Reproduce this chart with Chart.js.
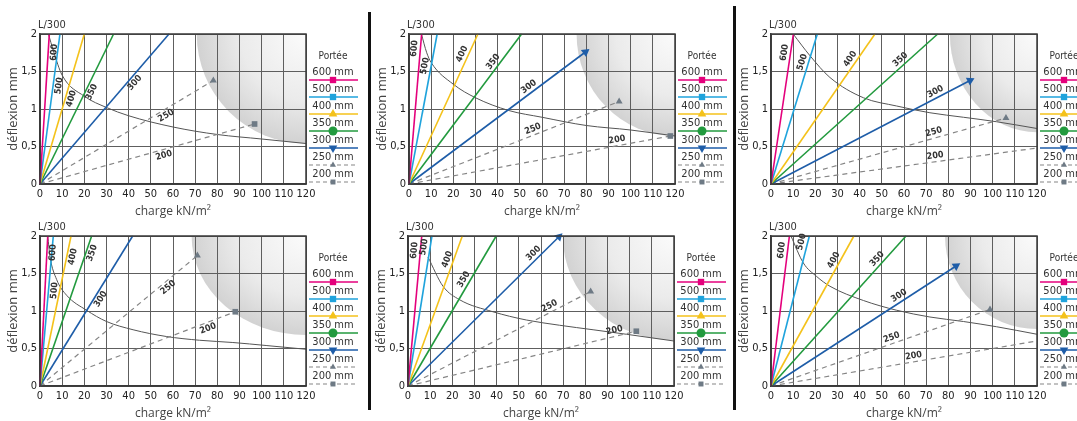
<!DOCTYPE html>
<html>
<head>
<meta charset="utf-8">
<script src="https://cdn.jsdelivr.net/npm/chart.js@4.4.0/dist/chart.umd.min.js"></script>
<style>
  body { margin: 0; background: #fff; width: 1077px; height: 421px; overflow: hidden; position: relative; }
  canvas { position: absolute; }
  .sep { position: absolute; width: 3px; background: #111; }
</style>
</head>
<body>
<div class="sep" style="left:368px; top:12px; height:398px"></div>
<div class="sep" style="left:733px; top:6px; height:404px"></div>
<canvas id="c1" width="366" height="224"></canvas>
<canvas id="c2" width="366" height="224"></canvas>
<canvas id="c3" width="366" height="224"></canvas>
<canvas id="c4" width="366" height="224"></canvas>
<canvas id="c5" width="366" height="224"></canvas>
<canvas id="c6" width="366" height="224"></canvas>
<script>
// portées (mm) et graduations
const spans = ['600', '500', '400', '350', '300', '250', '200'];
const xTicks = [0, 10, 20, 30, 40, 50, 60, 70, 80, 90, 100, 110, 120];
const yTicks = [0, 0.5, 1, 1.5, 2];

// fin de chaque droite (charge kN/m2, deflexion mm), par graphique
const p1EndX = [4.2, 9, 20, 33.2, 58.2, 78.2, 96.8];
const p1EndY = [2, 2, 2, 2, 2, 1.38, 0.8];
const p2EndX = [5.7, 12.7, 31.1, 50.8, 79.6, 94.8, 117.9];
const p2EndY = [2, 2, 2, 2, 1.76, 1.1, 0.64];
const p3EndX = [10.1, 20.9, 46.9, 75.2, 89.8, 106, 120];
const p3EndY = [2, 2, 2, 2, 1.38, 0.88, 0.48];
const p4EndX = [3.5, 6, 14, 23.3, 41.8, 71, 88.1];
const p4EndY = [2, 2, 2, 2, 2, 1.74, 0.99];
const p5EndX = [6.2, 10.8, 24.5, 39.8, 68.1, 82.4, 103];
const p5EndY = [2, 2, 2, 2, 1.99, 1.26, 0.73];
const p6EndX = [8.3, 17.3, 37.4, 60.9, 83.5, 98.8, 120];
const p6EndY = [2, 2, 2, 2, 1.6, 1.02, 0.6];

// courbe limite grise
const p1CurveX = [3.8, 6, 10, 20, 30, 40, 60, 80, 100, 120];
const p1CurveY = [2, 1.78, 1.45, 1.17, 1.02, 0.91, 0.76, 0.66, 0.6, 0.54];
const p2CurveX = [5.6, 8, 10, 20, 30, 45, 60, 80, 100, 120];
const p2CurveY = [2, 1.75, 1.62, 1.33, 1.15, 0.98, 0.89, 0.78, 0.72, 0.64];
const p3CurveX = [10, 17.6, 26.6, 41.7, 56.7, 71.7, 86.8, 101.8, 120];
const p3CurveY = [2, 1.71, 1.42, 1.15, 1.04, 0.95, 0.89, 0.83, 0.74];
const p4CurveX = [3.5, 4.5, 7.5, 12, 21, 30, 42, 57, 72, 87, 102, 120];
const p4CurveY = [2, 1.73, 1.42, 1.21, 1.01, 0.86, 0.75, 0.66, 0.61, 0.58, 0.54, 0.49];
const p5CurveX = [9, 15.8, 23.3, 38.3, 53.4, 68.4, 83.5, 98.5, 120];
const p5CurveY = [1.72, 1.33, 1.15, 0.99, 0.88, 0.81, 0.75, 0.69, 0.6];
const p6CurveX = [9, 14.6, 20.6, 26.6, 41.7, 56.7, 71.7, 86.8, 101.8, 120];
const p6CurveY = [2, 1.64, 1.46, 1.33, 1.14, 1.01, 0.92, 0.86, 0.79, 0.69];

// zone grisee : croisement avec le haut (kN/m2) et avec le bord droit (mm)
const zoneTopX = [70.7, 75.6, 80.7, 68.4, 69.8, 78.5];
const zoneRightY = [0.54, 0.64, 0.69, 0.68, 0.61, 0.76];

const lineColors = ['#e4007c', '#1fa3dc', '#f4c21b', '#229a3e', '#1e5da8', '#858585', '#858585'];
const markColors = ['#e4007c', '#1fa3dc', '#f4c21b', '#229a3e', '#1e5da8', '#6e7a85', '#6e7a85'];
const narrow = "'Liberation Sans Narrow', 'DejaVu Sans Condensed', sans-serif";

const panels = [
    { id: 'c1', left: 40, top: 34, endX: p1EndX, endY: p1EndY, cx: p1CurveX, cy: p1CurveY, side: 1,
      at: [0.88, 0.66, 0.58, 0.63, 0.70, 0.71, 0.57] },
    { id: 'c2', left: 409, top: 34, endX: p2EndX, endY: p2EndY, cx: p2CurveX, cy: p2CurveY, side: -1,
      at: [0.9, 0.78, 0.85, 0.79, 0.7, 0.6, 0.8] },
    { id: 'c3', left: 771, top: 34, endX: p3EndX, endY: p3EndY, cx: p3CurveX, cy: p3CurveY, side: -1,
      at: [0.87, 0.8, 0.81, 0.8, 0.84, 0.7, 0.62] },
    { id: 'c4', left: 40, top: 236, endX: p4EndX, endY: p4EndY, cx: p4CurveX, cy: p4CurveY, side: 1,
      at: [0.89, 0.64, 0.87, 0.9, 0.6, 0.79, 0.85] },
    { id: 'c5', left: 408, top: 236, endX: p5EndX, endY: p5EndY, cx: p5CurveX, cy: p5CurveY, side: -1,
      at: [0.9, 0.92, 0.83, 0.69, 0.86, 0.79, 0.91] },
    { id: 'c6', left: 771, top: 236, endX: p6EndX, endY: p6EndY, cx: p6CurveX, cy: p6CurveY, side: -1,
      at: [0.9, 0.95, 0.82, 0.82, 0.71, 0.56, 0.54] },
];

// ZONE GRISEE (dessinee sous la grille)
const zonePlugin = {
    id: 'zone',
    beforeDraw(chart, args, opts) {
        const { ctx, chartArea: a, scales: { x, y } } = chart;
        const rx = a.right - x.getPixelForValue(opts.topX);
        const ry = y.getPixelForValue(opts.rightY) - a.top;
        ctx.save();
        ctx.beginPath();
        ctx.rect(a.left, a.top, a.width, a.height);
        ctx.clip();
        ctx.translate(a.right, a.top);
        ctx.scale(rx, ry);
        const g = ctx.createRadialGradient(0, 0, 0, 0, 0, 1);
        g.addColorStop(0, '#fbfbfb');
        g.addColorStop(0.6, '#ebebeb');
        g.addColorStop(1, '#d2d2d2');
        ctx.fillStyle = g;
        ctx.beginPath();
        ctx.arc(0, 0, 1, 0, Math.PI * 2);
        ctx.fill();
        ctx.restore();
    }
};

// CHIFFRES LE LONG DES DROITES
const tagPlugin = {
    id: 'tags',
    afterDatasetsDraw(chart, args, opts) {
        const ctx = chart.ctx;
        ctx.save();
        ctx.font = 'bold 9px ' + narrow;
        ctx.fillStyle = '#333';
        ctx.textAlign = 'center';
        ctx.textBaseline = 'middle';
        chart.data.datasets.forEach((ds, i) => {
            if (!ds.tag) return;
            const pts = chart.getDatasetMeta(i).data;
            const dx = pts[1].x - pts[0].x;
            const dy = pts[1].y - pts[0].y;
            const len = Math.hypot(dx, dy);
            const t = opts.at[i];
            const px = pts[0].x + dx * t - opts.side * (dy / len) * 6;
            const py = pts[0].y + dy * t + opts.side * (dx / len) * 6;
            ctx.save();
            ctx.translate(px, py);
            ctx.rotate(Math.atan2(dy, dx));
            ctx.fillText(ds.tag, 0, 0);
            ctx.restore();
        });
        ctx.restore();
    }
};

// CADRE, L/300 ET LEGENDE "PORTEE"
const legendStyles = ['rect', 'rect', 'triangle', 'circle', 'triangle', 'triangle', 'rect'];
const legendRot = [0, 0, 0, 0, 180, 0, 0];
const legendSize = [4.5, 4.5, 5, 4.5, 5, 3.5, 3.5];

const framePlugin = {
    id: 'frame',
    afterDraw(chart) {
        const { ctx, chartArea: a } = chart;
        ctx.save();
        ctx.strokeStyle = '#3a3a3a';
        ctx.lineWidth = 1.5;
        ctx.strokeRect(a.left, a.top, a.width, a.height);

        ctx.fillStyle = '#333';
        ctx.font = '11px ' + narrow;
        ctx.textAlign = 'left';
        ctx.textBaseline = 'middle';
        ctx.fillText('L/300', a.left - 2, a.top - 9);

        const mx = a.right + 27;
        ctx.textAlign = 'center';
        ctx.font = '10px ' + narrow;
        ctx.fillText('Portée', mx, a.top + 22);
        ctx.font = '11px ' + narrow;
        spans.forEach((s, i) => {
            const ly = a.top + 46 + i * 17;
            ctx.fillStyle = '#333';
            ctx.fillText(s + ' mm', mx, ly - 8);
            ctx.strokeStyle = lineColors[i];
            ctx.lineWidth = i >= 5 ? 1.2 : 1.6;
            ctx.setLineDash(i >= 5 ? [4, 3] : []);
            ctx.beginPath();
            ctx.moveTo(a.right + 3, ly);
            ctx.lineTo(a.right + 52, ly);
            ctx.stroke();
            ctx.setLineDash([]);
            ctx.fillStyle = markColors[i];
            Chart.helpers.drawPoint(ctx, {
                pointStyle: legendStyles[i], radius: legendSize[i], rotation: legendRot[i], borderWidth: 0
            }, mx, ly);
        });
        ctx.restore();
    }
};

function buildChart(p, n) {
    const canvas = document.getElementById(p.id);
    canvas.style.left = (p.left - 40) + 'px';
    canvas.style.top = (p.top - 34) + 'px';

    const datasets = spans.map((s, i) => {
        const ex = p.endX[i];
        const ey = p.endY[i];
        const mark = ex < 120 && ey < 2;
        return {
            label: s + ' mm',
            tag: s,
            data: [{ x: 0, y: 0 }, { x: ex, y: ey }],
            borderColor: lineColors[i],
            backgroundColor: markColors[i],
            borderWidth: i >= 5 ? 1.2 : 1.6,
            borderDash: i >= 5 ? [5, 4] : [],
            pointRadius: [0, mark ? (i === 4 ? 5 : 4) : 0],
            pointStyle: i === 6 ? 'rect' : 'triangle',
            pointBorderWidth: 0,
            pointRotation: (c) => {
                if (i !== 4) return 0;
                const { x, y } = c.chart.scales;
                const dx = x.getPixelForValue(ex) - x.getPixelForValue(0);
                const dy = y.getPixelForValue(0) - y.getPixelForValue(ey);
                return 90 - Math.atan2(dy, dx) * 180 / Math.PI;
            },
            clip: false
        };
    });

    datasets.push({
        label: 'limite',
        data: p.cx.map((v, k) => ({ x: v, y: p.cy[k] })),
        borderColor: '#555',
        borderWidth: 1,
        pointRadius: 0,
        cubicInterpolationMode: 'monotone'
    });

    return new Chart(canvas, {
        type: 'line',
        data: { datasets: datasets },
        plugins: [zonePlugin, tagPlugin, framePlugin],
        options: {
            responsive: false,
            animation: false,
            layout: { padding: { left: 0, top: 34, right: 60, bottom: 0 } },
            plugins: {
                legend: { display: false },
                tooltip: { enabled: false },
                zone: { topX: zoneTopX[n], rightY: zoneRightY[n] },
                tags: { at: p.at, side: p.side }
            },
            scales: {
                x: {
                    type: 'linear',
                    min: 0,
                    max: 120,
                    afterFit: (s) => { s.height = 40; },
                    afterBuildTicks: (s) => { s.ticks = xTicks.map(v => ({ value: v })); },
                    grid: { color: '#5e5e5e', lineWidth: 1, drawTicks: false },
                    border: { color: '#3a3a3a', width: 1.5 },
                    ticks: { padding: 4, color: '#222', autoSkip: false, maxRotation: 0, font: { family: narrow, size: 11 } },
                    title: {
                        display: true, text: 'charge kN/m²', color: '#444',
                        font: { family: 'Open Sans', size: 12 }, padding: { top: 0, bottom: 5 }
                    }
                },
                y: {
                    type: 'linear',
                    min: 0,
                    max: 2,
                    afterFit: (s) => { s.width = 40; },
                    afterBuildTicks: (s) => { s.ticks = yTicks.map(v => ({ value: v })); },
                    grid: { color: '#5e5e5e', lineWidth: 1, drawTicks: false },
                    border: { color: '#3a3a3a', width: 1.5 },
                    ticks: {
                        padding: 3, color: '#222', font: { family: narrow, size: 11 },
                        callback: (v) => String(v).replace('.', ',')
                    },
                    title: {
                        display: true, text: 'déflexion mm', color: '#444',
                        font: { family: 'Open Sans', size: 13 }, padding: { top: 5, bottom: 0 }
                    }
                }
            }
        }
    });
}

panels.forEach((p, n) => buildChart(p, n));
</script>
</body>
</html>
